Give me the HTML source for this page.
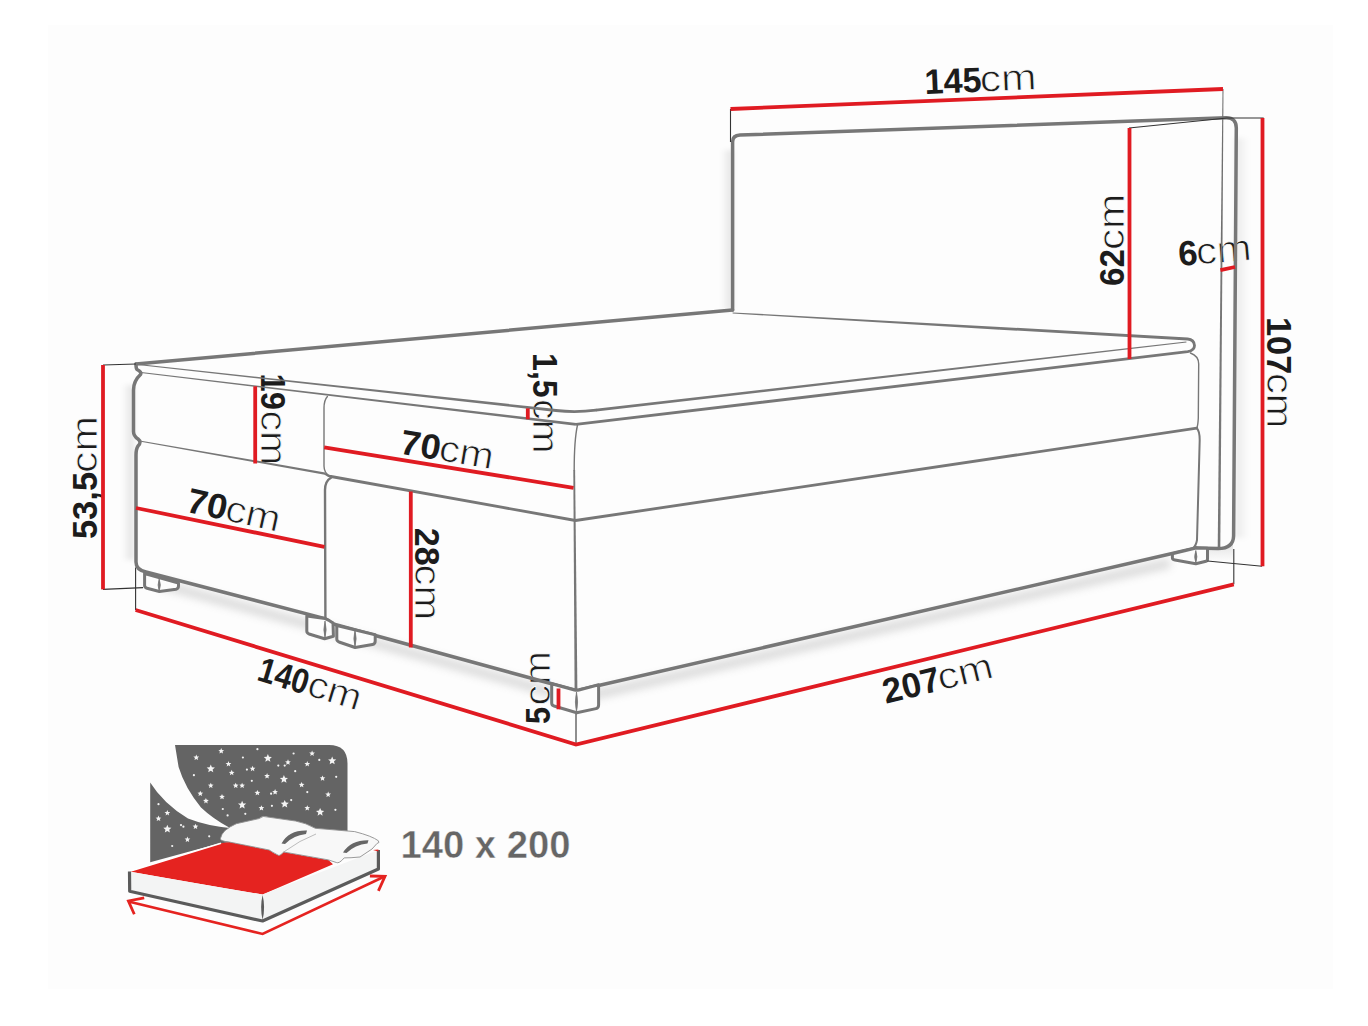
<!DOCTYPE html>
<html><head><meta charset="utf-8"><style>
html,body{margin:0;padding:0;background:#fff;width:1368px;height:1026px;overflow:hidden}
svg{display:block;font-family:"Liberation Sans",sans-serif}
</style></head><body>
<svg width="1368" height="1026" viewBox="0 0 1368 1026"><rect x="0" y="0" width="1368" height="1026" fill="#ffffff"/>
<rect x="48" y="25" width="1285" height="964" fill="#fdfdfd"/>
<defs><filter id="bl" x="-20%" y="-50%" width="140%" height="200%"><feGaussianBlur stdDeviation="4"/></filter><linearGradient id="shL" x1="0" x2="1" y1="0" y2="0"><stop offset="0" stop-color="#000" stop-opacity="0"/><stop offset="1" stop-color="#000" stop-opacity="0.11"/></linearGradient><linearGradient id="shR" x1="0" x2="1" y1="0" y2="0"><stop offset="0" stop-color="#000" stop-opacity="0.08"/><stop offset="1" stop-color="#000" stop-opacity="0"/></linearGradient></defs>
<defs><filter id="bl2" x="-50%" y="-10%" width="200%" height="120%"><feGaussianBlur stdDeviation="2.5"/></filter></defs>
<g filter="url(#bl2)"><rect x="721" y="150" width="12" height="160" fill="url(#shL)"/><rect x="122" y="385" width="12" height="175" fill="url(#shL)"/><rect x="1235" y="138" width="14" height="400" fill="url(#shR)"/></g>
<g filter="url(#bl)" opacity="0.30"><path d="M160 584 L325 629 L576 699 L1170 563" stroke="#888" stroke-width="9" fill="none"/></g>
<defs><linearGradient id="shB" x1="0" x2="0" y1="0" y2="1"><stop offset="0" stop-color="#000" stop-opacity="0.12"/><stop offset="1" stop-color="#000" stop-opacity="0"/></linearGradient></defs>
<path d="M1207 549 L1219 549 Q1233 548 1233 541 L1233 562 L1207 562 Z" fill="url(#shB)"/>
<g fill="#1c1c1c" font-family="Liberation Sans, sans-serif">
<g transform="translate(927.00,94.00) rotate(-2.4)"><text x="-2.00" y="0" font-weight="700" font-size="35" textLength="57.02" lengthAdjust="spacingAndGlyphs">145</text><text x="53.40" y="0" font-size="37" textLength="56.73" lengthAdjust="spacingAndGlyphs" stroke="#fdfdfd" stroke-width="0.8">cm</text></g>
<g transform="translate(1124.00,284.70) rotate(-90)"><text x="-1.20" y="0" font-weight="700" font-size="35" textLength="36.82" lengthAdjust="spacingAndGlyphs">62</text><text x="34.60" y="0" font-size="37" textLength="56.23" lengthAdjust="spacingAndGlyphs" stroke="#fdfdfd" stroke-width="0.8">cm</text></g>
<g transform="translate(1179.60,266.00) rotate(-5)"><text x="-0.40" y="0" font-weight="700" font-size="35" textLength="19.34" lengthAdjust="spacingAndGlyphs">6</text><text x="17.40" y="0" font-size="37" textLength="55.46" lengthAdjust="spacingAndGlyphs" stroke="#fdfdfd" stroke-width="0.8">cm</text></g>
<g transform="translate(1267.30,319.00) rotate(90)"><text x="-2.00" y="0" font-weight="700" font-size="35" textLength="57.38" lengthAdjust="spacingAndGlyphs">107</text><text x="53.90" y="0" font-size="37" textLength="55.31" lengthAdjust="spacingAndGlyphs" stroke="#fdfdfd" stroke-width="0.8">cm</text></g>
<g transform="translate(96.70,537.30) rotate(-90)"><text x="-1.80" y="0" font-weight="700" font-size="35" textLength="67.18" lengthAdjust="spacingAndGlyphs">53,5</text><text x="64.30" y="0" font-size="37" textLength="57.02" lengthAdjust="spacingAndGlyphs" stroke="#fdfdfd" stroke-width="0.8">cm</text></g>
<g transform="translate(261.00,375.80) rotate(90)"><text x="-2.20" y="0" font-weight="700" font-size="35" textLength="36.40" lengthAdjust="spacingAndGlyphs">19</text><text x="34.60" y="0" font-size="37" textLength="54.84" lengthAdjust="spacingAndGlyphs" stroke="#fdfdfd" stroke-width="0.8">cm</text></g>
<g transform="translate(533.40,355.00) rotate(90)"><text x="-2.00" y="0" font-weight="700" font-size="35" textLength="44.74" lengthAdjust="spacingAndGlyphs">1,5</text><text x="44.00" y="0" font-size="37" textLength="54.59" lengthAdjust="spacingAndGlyphs" stroke="#fdfdfd" stroke-width="0.8">cm</text></g>
<g transform="translate(405.00,454.50) rotate(9.6)"><text x="-6.29" y="0" font-weight="700" font-size="35" textLength="40.45" lengthAdjust="spacingAndGlyphs">70</text><text x="32.94" y="0" font-size="37" textLength="55.05" lengthAdjust="spacingAndGlyphs" stroke="#fdfdfd" stroke-width="0.8">cm</text></g>
<g transform="translate(415.20,529.10) rotate(90)"><text x="-1.40" y="0" font-weight="700" font-size="35" textLength="37.91" lengthAdjust="spacingAndGlyphs">28</text><text x="35.50" y="0" font-size="37" textLength="55.50" lengthAdjust="spacingAndGlyphs" stroke="#fdfdfd" stroke-width="0.8">cm</text></g>
<g transform="translate(192.00,513.00) rotate(12.5)"><text x="-7.17" y="0" font-weight="700" font-size="35" textLength="40.54" lengthAdjust="spacingAndGlyphs">70</text><text x="32.17" y="0" font-size="37" textLength="55.52" lengthAdjust="spacingAndGlyphs" stroke="#fdfdfd" stroke-width="0.8">cm</text></g>
<g transform="translate(257.00,680.00) rotate(17)"><text x="-1.25" y="0" font-weight="700" font-size="35" textLength="51.33" lengthAdjust="spacingAndGlyphs">140</text><text x="50.49" y="0" font-size="37" textLength="54.56" lengthAdjust="spacingAndGlyphs" stroke="#fdfdfd" stroke-width="0.8">cm</text></g>
<g transform="translate(550.40,723.30) rotate(-90)"><text x="-0.80" y="0" font-weight="700" font-size="35" textLength="17.06" lengthAdjust="spacingAndGlyphs">5</text><text x="17.90" y="0" font-size="37" textLength="54.42" lengthAdjust="spacingAndGlyphs" stroke="#fdfdfd" stroke-width="0.8">cm</text></g>
<g transform="translate(886.00,703.70) rotate(-13.7)"><text x="-0.21" y="0" font-weight="700" font-size="35" textLength="58.25" lengthAdjust="spacingAndGlyphs">207</text><text x="56.18" y="0" font-size="37" textLength="56.09" lengthAdjust="spacingAndGlyphs" stroke="#fdfdfd" stroke-width="0.8">cm</text></g>
</g>
<g fill="none" stroke="#777777" stroke-width="3.5" stroke-linejoin="round" stroke-linecap="round">
<path d="M732.6 310 L732.6 142 Q732.6 135.3 740 135 L1226 117.8 Q1236.3 117.5 1236.3 128 L1233.6 536 Q1233.3 548.5 1218 548.6 L1196 548"/>
<path d="M136 364 L732.6 310"/>
<path d="M136 364 Q136 369 137 369.5 Q142 372 140.5 374.5 Q133.5 381 133.5 390 L133.5 431.5 Q133.5 436 138 439 Q142 442 138 446 Q136 449 136 455 L136 562 Q136 570 146 572 L325 618.6 Q329 620 331 622.5 Q333 624 336 624.8 L574.5 690 Q576.5 690.5 579 690 L1196 548"/>
</g>
<path d="M576 424.3 L1187.7 351.7 Q1194.5 350.5 1194.5 345.5 Q1194 339.5 1187.7 339 L1000 328.3" fill="none" stroke="#777777" stroke-width="2.8" stroke-linejoin="round"/>
<polygon fill="#777777" points="732.6,313.6 999.9,329.7 1000.1,326.9 732.6,312.4"/>
<polygon fill="#777777" points="596.2,411.5 1186.5,342.6 1186.3,341.4 595.8,408.7"/>
<g fill="none" stroke="#777777" stroke-linecap="round" stroke-linejoin="round">
<path d="M556 410.5 Q576 412.8 596 410.1" stroke-width="2.8"/>
<path d="M331 476.5 L575.5 520.5 L1196.8 428.2" stroke-width="2.8"/>
</g>
<polygon fill="#777777" points="137.9,365.0 555.8,411.9 556.2,409.1 138.1,364.0"/>
<polygon fill="#777777" points="140.9,373.0 575.8,425.7 576.2,422.9 141.1,372.0"/>
<polygon fill="#777777" points="139.4,441.6 324.8,474.8 325.2,472.4 139.6,440.4"/>
<path d="M325 473.6 Q328 476 331 476.5" stroke="#777777" stroke-width="2.4" fill="none"/>
<g fill="none" stroke="#777777" stroke-linecap="round">
<path d="M327.4 396.4 Q324 400 324 408 L324 466 Q324 473 330 476.5" stroke-width="1.4"/>
<path d="M331 477.7 Q325 481 325 490 L325.4 618.6" stroke-width="2.4"/>
<path d="M577.5 425 Q574.2 440 574.2 470" stroke-width="1.4"/>
<path d="M1190.4 353 Q1198.7 356 1198.7 364 L1198.3 418 Q1198 425 1196.8 428.2" stroke-width="1.4"/>
<path d="M1196.8 428.2 Q1199.7 431 1199.7 440 L1197 540 Q1196 546 1193 548" stroke-width="2"/>
</g>
<polygon fill="#707070" points="1222.5,89.0 1220.6,260.0 1222.4,260.0 1223.5,89.0"/>
<polygon fill="#777777" points="573.3,470.0 574.6,690.0 577.4,690.0 575.1,470.0"/>
<polygon fill="#777777" points="1220.6,260.0 1217.7,548.0 1220.3,548.0 1222.4,260.0"/>
<g fill="#fdfdfd" stroke="#777777" stroke-width="3" stroke-linejoin="round">
<path d="M144.6 573.5 L144.6 585.5 Q144.6 587.5 147 588.3 L159.4 591.5 L176 589.2 Q178.5 588.6 178.5 586 L178.5 583 Z"/>
<path d="M306.8 616 L306.8 631 Q306.8 633 309 634 L324.6 638.7 L333.4 636.3 L333 623 Q329 620 325 618.6 Z"/>
<path d="M336.8 625.5 L336.8 639 Q336.8 641 339 642 L355.1 647.5 L372.5 644.5 Q375.2 644 375.2 641 L375.2 634.7 Z"/>
<path d="M551.7 683.7 L551.7 703 Q551.7 705.4 554 706 L576.7 712.8 L596 708.6 Q598.6 708 598.6 705 L598.6 684.7 L579 690 Q576.5 690.5 574.5 690 Z"/>
<path d="M1172.4 553.8 L1172.4 558 Q1172.4 559.5 1175 560 L1195.8 563.8 L1206 561.3 Q1207.5 561 1207.5 559 L1207.5 548.2 L1196 548 Z"/>
</g>
<g fill="#777777" stroke="#777777" stroke-width="0.8">
<path d="M159.2 579 Q161.39999999999998 585.0 159.2 591 Q157.0 585.0 159.2 579 Z"/>
<path d="M325 621 Q327.2 629.5 325 638 Q322.8 629.5 325 621 Z"/>
<path d="M355 630 Q357.2 638.5 355 647 Q352.8 638.5 355 630 Z"/>
<path d="M576.5 692 Q578.7 702.0 576.5 712 Q574.3 702.0 576.5 692 Z"/>
<path d="M1195.8 550.5 Q1198.0 556.75 1195.8 563 Q1193.6 556.75 1195.8 550.5 Z"/>
</g>
<g fill="none" stroke="#333" stroke-width="1.1">
<path d="M730.5 109 L730.5 142"/>
<path d="M1227 118 L1263.7 118"/>
<path d="M1129 128 L1227 118"/>
<path d="M103 365 L136 364"/>
<path d="M103 589.4 L143 587.6"/>
<path d="M135.6 567.4 L135.6 610"/>
<path d="M576 714 L576 744.5"/>
<path d="M1233.8 549 L1233.8 584.3"/>
<path d="M1207.5 561 L1262.1 566.3"/>
</g>
<g fill="none" stroke="#e01b22" stroke-width="3.8">
<path d="M730.5 109 L1223 89"/>
<path d="M1129.5 128 L1129.5 359"/>
<path d="M1220.4 270.2 L1235 267"/>
<path d="M1262.5 118 L1262.5 566.3"/>
<path d="M103 365 L103 589.4"/>
<path d="M255.2 386.3 L255.2 463.5"/>
<path d="M527.8 408.3 L527.8 419.3"/>
<path d="M324.2 447.4 L573.5 487.8"/>
<path d="M410.8 491.4 L410.8 647.5"/>
<path d="M136 508 L324.4 546.8"/>
<path d="M558.5 688.5 L558.5 709.3"/>
<path d="M135.6 610 L576 744.5 L1233.8 584.3"/>
</g>
<g id="icon">
<path d="M175 745 L329 745 Q347.5 745 347.5 763.5 L347.5 835 L300 835 L219 843.5 L150.2 862.2 L150.2 782.4 Q163 803 188 818.6 Q207 826 230 828 Q212 818 201 807.4 Q185 788 178.6 767 Z" fill="#646464"/>
<g fill="#f4f4f4"><polygon points="267.9,754.0 269.0,756.8 271.9,757.0 269.7,758.9 270.4,761.8 267.9,760.3 265.3,761.8 266.0,758.9 263.8,757.0 266.7,756.8"/><polygon points="210.8,764.5 211.9,767.2 214.9,767.4 212.6,769.4 213.3,772.3 210.8,770.7 208.2,772.3 208.9,769.4 206.7,767.4 209.6,767.2"/><polygon points="283.9,774.9 285.1,777.7 288.0,777.9 285.8,779.8 286.5,782.7 283.9,781.2 281.4,782.7 282.1,779.8 279.8,777.9 282.8,777.7"/><polygon points="242.1,800.7 243.3,803.4 246.2,803.6 244.0,805.6 244.7,808.4 242.1,806.9 239.6,808.4 240.3,805.6 238.0,803.6 241.0,803.4"/><polygon points="284.7,799.9 285.9,802.6 288.8,802.8 286.6,804.8 287.3,807.6 284.7,806.1 282.2,807.6 282.9,804.8 280.7,802.8 283.6,802.6"/><polygon points="320.1,807.9 321.3,810.6 324.2,810.9 322.0,812.8 322.6,815.7 320.1,814.1 317.6,815.7 318.3,812.8 316.0,810.9 319.0,810.6"/><polygon points="332.2,756.4 333.3,759.2 336.3,759.4 334.0,761.3 334.7,764.2 332.2,762.7 329.7,764.2 330.3,761.3 328.1,759.4 331.0,759.2"/><polygon points="167.3,824.8 168.5,827.5 171.4,827.8 169.2,829.7 169.9,832.6 167.3,831.0 164.8,832.6 165.5,829.7 163.3,827.8 166.2,827.5"/><polygon points="221.2,748.1 222.0,750.0 224.1,750.2 222.5,751.5 223.0,753.5 221.2,752.4 219.5,753.5 219.9,751.5 218.4,750.2 220.4,750.0"/><polygon points="196.3,754.5 197.1,756.4 199.1,756.6 197.6,757.9 198.1,759.9 196.3,758.9 194.5,759.9 195.0,757.9 193.4,756.6 195.5,756.4"/><polygon points="228.5,760.9 229.2,762.9 231.3,763.0 229.7,764.4 230.2,766.4 228.5,765.3 226.7,766.4 227.2,764.4 225.6,763.0 227.7,762.9"/><polygon points="252.6,765.8 253.4,767.7 255.4,767.8 253.9,769.2 254.3,771.2 252.6,770.1 250.8,771.2 251.3,769.2 249.7,767.8 251.8,767.7"/><polygon points="231.7,769.8 232.5,771.7 234.5,771.9 233.0,773.2 233.4,775.2 231.7,774.1 229.9,775.2 230.4,773.2 228.8,771.9 230.9,771.7"/><polygon points="267.1,773.0 267.8,774.9 269.9,775.1 268.3,776.4 268.8,778.4 267.1,777.4 265.3,778.4 265.8,776.4 264.2,775.1 266.3,774.9"/><polygon points="288.0,759.3 288.8,761.2 290.8,761.4 289.2,762.8 289.7,764.8 288.0,763.7 286.2,764.8 286.7,762.8 285.1,761.4 287.2,761.2"/><polygon points="307.3,760.9 308.0,762.9 310.1,763.0 308.5,764.4 309.0,766.4 307.3,765.3 305.5,766.4 306.0,764.4 304.4,763.0 306.5,762.9"/><polygon points="312.1,750.5 312.9,752.4 314.9,752.6 313.4,753.9 313.8,755.9 312.1,754.8 310.3,755.9 310.8,753.9 309.2,752.6 311.3,752.4"/><polygon points="322.5,775.4 323.3,777.3 325.4,777.5 323.8,778.8 324.3,780.8 322.5,779.8 320.8,780.8 321.3,778.8 319.7,777.5 321.7,777.3"/><polygon points="301.6,781.9 302.4,783.8 304.5,783.9 302.9,785.3 303.4,787.3 301.6,786.2 299.9,787.3 300.3,785.3 298.8,783.9 300.8,783.8"/><polygon points="210.8,782.7 211.6,784.6 213.6,784.7 212.0,786.1 212.5,788.1 210.8,787.0 209.0,788.1 209.5,786.1 207.9,784.7 210.0,784.6"/><polygon points="235.7,782.7 236.5,784.6 238.5,784.7 237.0,786.1 237.5,788.1 235.7,787.0 233.9,788.1 234.4,786.1 232.8,784.7 234.9,784.6"/><polygon points="242.1,782.7 242.9,784.6 245.0,784.7 243.4,786.1 243.9,788.1 242.1,787.0 240.4,788.1 240.8,786.1 239.3,784.7 241.3,784.6"/><polygon points="200.3,790.7 201.1,792.6 203.2,792.8 201.6,794.1 202.1,796.1 200.3,795.1 198.5,796.1 199.0,794.1 197.5,792.8 199.5,792.6"/><polygon points="222.0,793.9 222.8,795.8 224.9,796.0 223.3,797.3 223.8,799.3 222.0,798.3 220.3,799.3 220.7,797.3 219.2,796.0 221.2,795.8"/><polygon points="257.4,789.9 258.2,791.8 260.3,792.0 258.7,793.3 259.2,795.3 257.4,794.2 255.6,795.3 256.1,793.3 254.5,792.0 256.6,791.8"/><polygon points="275.1,789.1 275.9,791.0 277.9,791.2 276.4,792.5 276.9,794.5 275.1,793.4 273.3,794.5 273.8,792.5 272.2,791.2 274.3,791.0"/><polygon points="205.9,797.9 206.7,799.8 208.8,800.0 207.2,801.4 207.7,803.4 205.9,802.3 204.2,803.4 204.7,801.4 203.1,800.0 205.1,799.8"/><polygon points="261.4,805.2 262.2,807.1 264.3,807.2 262.7,808.6 263.2,810.6 261.4,809.5 259.7,810.6 260.1,808.6 258.6,807.2 260.6,807.1"/><polygon points="307.3,805.2 308.0,807.1 310.1,807.2 308.5,808.6 309.0,810.6 307.3,809.5 305.5,810.6 306.0,808.6 304.4,807.2 306.5,807.1"/><polygon points="328.2,791.5 329.0,793.4 331.0,793.6 329.4,794.9 329.9,796.9 328.2,795.9 326.4,796.9 326.9,794.9 325.3,793.6 327.4,793.4"/><polygon points="167.3,810.0 168.1,811.9 170.2,812.1 168.6,813.4 169.1,815.4 167.3,814.3 165.6,815.4 166.1,813.4 164.5,812.1 166.5,811.9"/><polygon points="158.5,815.6 159.3,817.5 161.3,817.7 159.8,819.0 160.3,821.1 158.5,820.0 156.7,821.1 157.2,819.0 155.6,817.7 157.7,817.5"/><polygon points="195.5,823.7 196.3,825.6 198.3,825.7 196.8,827.1 197.2,829.1 195.5,828.0 193.7,829.1 194.2,827.1 192.6,825.7 194.7,825.6"/><polygon points="187.4,836.5 188.2,838.4 190.3,838.6 188.7,840.0 189.2,842.0 187.4,840.9 185.7,842.0 186.2,840.0 184.6,838.6 186.6,838.4"/><circle cx="257.4" cy="749.2" r="1.1"/><circle cx="242.9" cy="757.5" r="1.1"/><circle cx="293.6" cy="753.5" r="1.1"/><circle cx="319.3" cy="759.9" r="1.1"/><circle cx="278.3" cy="765.6" r="1.1"/><circle cx="246.9" cy="769.6" r="1.1"/><circle cx="295.2" cy="771.2" r="1.1"/><circle cx="336.2" cy="776.8" r="1.1"/><circle cx="193.9" cy="775.2" r="1.1"/><circle cx="251.8" cy="780.8" r="1.1"/><circle cx="307.3" cy="792.1" r="1.1"/><circle cx="271.1" cy="793.7" r="1.1"/><circle cx="291.2" cy="800.1" r="1.1"/><circle cx="271.9" cy="805.8" r="1.1"/><circle cx="222.8" cy="809.0" r="1.1"/><circle cx="227.6" cy="815.4" r="1.1"/><circle cx="245.3" cy="813.8" r="1.1"/><circle cx="335.4" cy="809.8" r="1.1"/><circle cx="158.5" cy="804.2" r="1.1"/><circle cx="181.0" cy="825.1" r="1.1"/><circle cx="183.4" cy="826.7" r="1.1"/><circle cx="209.2" cy="836.3" r="1.1"/><circle cx="172.2" cy="846.0" r="1.1"/><circle cx="284.7" cy="765.6" r="1.1"/></g>
<path d="M129.1 871.4 L221 843.3 L229.7 842.1 L269.2 850 Q273 853 278.4 855.3 L283.7 852 L328.4 859.9 L333 864.3 L262.6 894.5 Q200 884 129.1 871.4 Z" fill="#e52320"/>
<path d="M129.1 871.4 L221 843.3" stroke="#fff" stroke-width="1.6" fill="none"/>
<path d="M129.1 871.4 Q200 884 262.6 894.5 L262.6 920 L129.7 891.2 Z" fill="#f3f4f4"/>
<path d="M262.6 894.5 L378.4 850 L378.4 869 L262.6 920 Z" fill="#f3f4f4"/>
<path d="M129.5 871.4 L129.7 891.2 L262.6 921 L378.4 869 L378.4 850" fill="none" stroke="#5b5b5b" stroke-width="3.2" stroke-linejoin="round"/>
<path d="M262.6 895 Q265.6 907 262.6 920 Q259.6 907 262.6 895 Z" fill="#5b5b5b"/>
<path d="M220.5 838.2 Q222 830 236.3 823.7 L259 818.6 Q263 815 268 817.1 L295.5 821 Q306 823 315.3 828.3 L354.7 831.6 Q372 836 378.4 840.8 Q380 843 377.1 843.4 L372 849 L360 857 Q350 858 344.2 857.9 Q339 864 336.3 862.5 L328.4 859.9 L283.7 852 Q280 856 278.4 855.3 Q272 852 269.2 850 L229.7 842.1 Q219 841 220.5 838.2 Z" fill="#f8f8f8" stroke="#8f8f8f" stroke-width="0.9"/>
<path d="M373 850 L378.4 849.5 L378.4 851.5 Z" fill="#e52320"/>
<path d="M283.7 852 Q300 840 316 834" fill="none" stroke="#a0a0a0" stroke-width="0.7"/>
<path d="M281.5 843.5 Q289 830 307 830.6 L306 834 Q293 835.5 285 844 Z" fill="#666"/>
<path d="M343 852.5 Q351 840 368.5 840.3 L367.5 843.6 Q355 845 346.5 853 Z" fill="#666"/>
<path d="M128.4 901.5 L262.6 934 L385 876.3" fill="none" stroke="#e52320" stroke-width="2.6"/>
<path d="M144.2 897.8 L128.4 901 L134.3 914.2" fill="none" stroke="#e52320" stroke-width="2.8" stroke-linejoin="miter"/>
<path d="M369.9 876 L385 876.3 L378.4 890.8" fill="none" stroke="#e52320" stroke-width="2.8" stroke-linejoin="miter"/>
</g>
<text x="400.5" y="858.3" font-family="Liberation Sans, sans-serif" font-weight="700" font-size="39.5" fill="#666" textLength="170" lengthAdjust="spacingAndGlyphs" stroke="#fdfdfd" stroke-width="0.45">140 x 200</text></svg>
</body></html>
